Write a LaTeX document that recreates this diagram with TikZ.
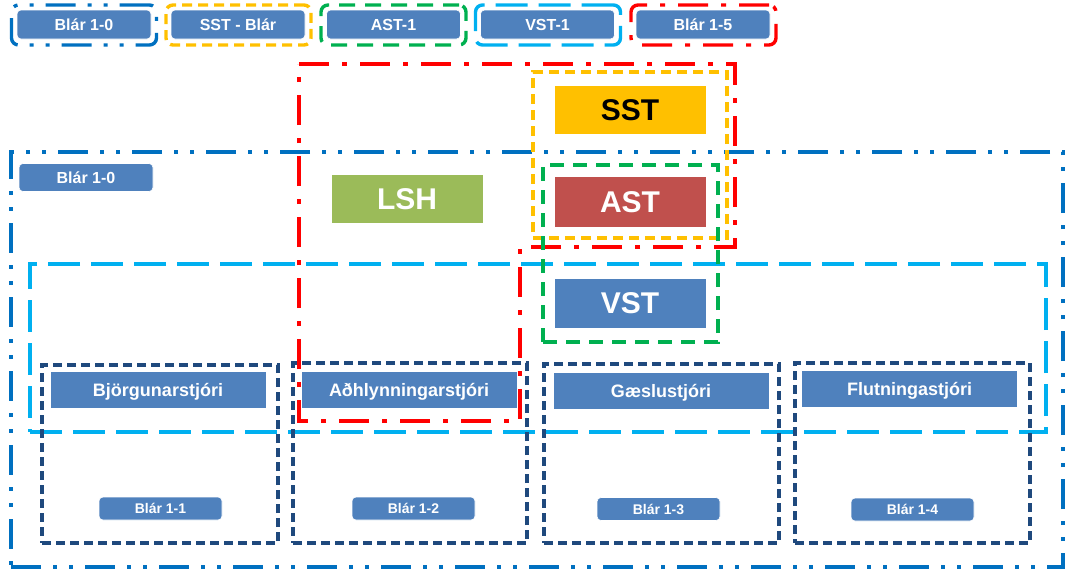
\documentclass[tikz,border=0pt]{standalone}
\usepackage{fontspec}
\setmainfont{Liberation Sans}
\definecolor{cBlue}{HTML}{0070C0}
\definecolor{cRed}{HTML}{FF0000}
\definecolor{cOrange}{HTML}{FFC000}
\definecolor{cGreen}{HTML}{00B050}
\definecolor{cLB}{HTML}{00B0F0}
\definecolor{cNavy}{HTML}{1F497D}
\definecolor{cBox}{HTML}{4F81BD}
\definecolor{cLSH}{HTML}{9BBB59}
\definecolor{cAST}{HTML}{C0504D}
\begin{document}
\begin{tikzpicture}[x=1pt,y=-1pt,
  bluedd/.style={draw=cBlue, line width=3.4pt, dash pattern=on 30pt off 12pt on 4pt off 12pt on 4pt off 12pt},
  reddd/.style={draw=cRed, line width=3.4pt, dash pattern=on 30pt off 13pt on 5pt off 13pt},
  orgdash/.style={draw=cOrange, line width=3.4pt, dash pattern=on 10pt off 6pt},
  grndash/.style={draw=cGreen, line width=3.4pt, dash pattern=on 14pt off 9pt},
  lbdash/.style={draw=cLB, line width=3.4pt, dash pattern=on 32pt off 11pt},
  navydash/.style={draw=cNavy, line width=3.2pt, dash pattern=on 9pt off 5pt},
  legframe/.style={rounded corners=7pt, minimum width=145pt, minimum height=40pt, inner sep=0pt},
  tag/.style={fill=cBox, draw=white, line width=0.6pt, rounded corners=4pt, text=white, inner sep=0pt, font=\bfseries\fontsize{16}{16}\selectfont, text height=11.5pt, text depth=0pt, minimum width=134pt, minimum height=29pt},
  smalltag/.style={fill=cBox, draw=white, line width=0.6pt, rounded corners=4pt, text=white, inner sep=0pt, font=\bfseries\fontsize{14}{14}\selectfont, text height=10pt, text depth=0pt, minimum width=123pt, minimum height=23pt},
  bigbox/.style={draw=white, line width=0.8pt, inner sep=0pt, font=\bfseries\fontsize{30}{30}\selectfont, text height=21.5pt, text depth=0pt, minimum width=152pt, minimum height=49pt},
  rolebox/.style={fill=cBox, draw=white, line width=0.6pt, text=white, inner sep=0pt, font=\bfseries\fontsize{18}{18}\selectfont, text height=13pt, text depth=0pt, minimum width=216pt, minimum height=37pt}
]
\useasboundingbox (0,0) rectangle (1067,571);

% legend
\node[legframe, bluedd] (f1) at (84,25) {};
\node[legframe, orgdash] (f2) at (238.5,25) {};
\node[legframe, grndash, dash pattern=on 16pt off 10pt] (f3) at (393.5,25) {};
\node[legframe, lbdash] (f4) at (548,25) {};
\node[legframe, reddd] (f5) at (703.5,25) {};
\node[tag] (l1) at (84,24.5) {Blár 1-0};
\node[tag] (l2) at (238,24.5) {SST - Blár};
\node[tag] (l3) at (393.5,24.5) {AST-1};
\node[tag] (l4) at (547.5,24.5) {VST-1};
\node[tag] (l5) at (703,24.5) {Blár 1-5};

% big blue frame
\node[bluedd, minimum width=1052pt, minimum height=415pt, inner sep=0pt] (big) at (537,359.5) {};
\node[tag, minimum height=28pt] (b10) at (86,177.5) {Blár 1-0};

% light blue frame
\node[lbdash, minimum width=1016pt, minimum height=168pt, inner sep=0pt] (lb) at (538,348) {};

% navy boxes
\node[navydash, minimum width=236pt, minimum height=178pt, inner sep=0pt] (n1) at (160,454) {};
\node[navydash, minimum width=234pt, minimum height=180pt, inner sep=0pt] (n2) at (410,453) {};
\node[navydash, minimum width=235pt, minimum height=179pt, inner sep=0pt] (n3) at (661.5,453.5) {};
\node[navydash, minimum width=235pt, minimum height=180pt, inner sep=0pt] (n4) at (912.5,453) {};

% red frame (Blár 1-5)
\coordinate (r1) at (299,64);
\coordinate (r2) at (735,64);
\coordinate (r3) at (735,247);
\coordinate (r4) at (520,247);
\coordinate (r5) at (520,421);
\coordinate (r6) at (299,421);
\draw[reddd] (r1) -- (r2) -- (r3) -- (r4) -- (r5) -- (r6) -- cycle;

% orange frame
\node[orgdash, minimum width=194pt, minimum height=166pt, inner sep=0pt] (of) at (630,155) {};
% green frame
\node[grndash, minimum width=175pt, minimum height=177pt, inner sep=0pt] (gf) at (630.5,253.5) {};

% main boxes
\node[bigbox, fill=cOrange, text=black] (sst) at (630,110) {SST};
\node[bigbox, fill=cAST, text=white, minimum height=51pt] (ast) at (630,201.5) {AST};
\node[bigbox, fill=cBox, text=white, minimum height=50pt] (vst) at (630,303) {VST};
\node[bigbox, fill=cLSH, text=white] (lsh) at (407,199) {LSH};

% role boxes
\node[rolebox] (r1b) at (158,389.5) {Björgunarstjóri};
\node[rolebox] (r2b) at (409,389.5) {Aðhlynningarstjóri};
\node[rolebox] (r3b) at (661,390.5) {Gæslustjóri};
\node[rolebox] (r4b) at (909.5,388.5) {Flutningastjóri};

% bottom tags
\node[smalltag] (t1) at (160.5,508.5) {Blár 1-1};
\node[smalltag] (t2) at (413.5,508.5) {Blár 1-2};
\node[smalltag] (t3) at (658.5,509) {Blár 1-3};
\node[smalltag] (t4) at (912.5,509.5) {Blár 1-4};
\end{tikzpicture}
\end{document}
